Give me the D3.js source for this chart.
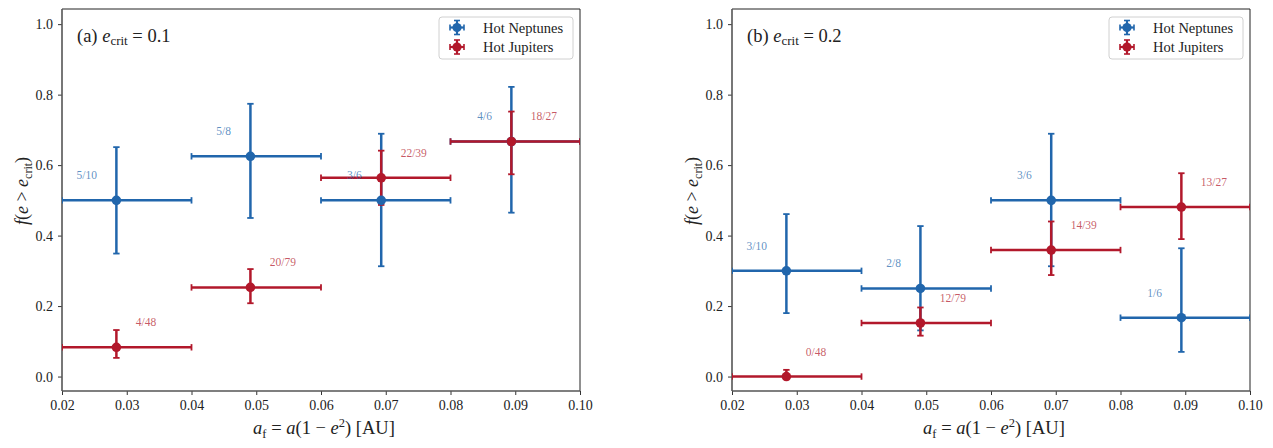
<!DOCTYPE html>
<html>
<head>
<meta charset="utf-8">
<script src="https://cdn.jsdelivr.net/npm/d3@7"></script>
<style>
  html, body { margin: 0; padding: 0; background: #fff; }
  svg { display: block; }
  svg text { font-family: "Liberation Serif", "Times New Roman", Times, "DejaVu Serif", "Noto Serif", serif !important; fill: #222; }
</style>
</head>
<body>
<svg id="chart" width="1273" height="448"></svg>
<script>
// ---------- data ----------
const binEdges = [[0.02, 0.04], [0.04, 0.06], [0.06, 0.08], [0.08, 0.10]];
const binCenters = [0.0284, 0.0491, 0.0693, 0.0894];

// Panel (a) e_crit = 0.1
const neptA = [0.5, 0.625, 0.5, 0.667];
const neptALo = [0.349, 0.45, 0.313, 0.465];
const neptAHi = [0.651, 0.774, 0.689, 0.822];
const neptALabels = ["5/10", "5/8", "3/6", "4/6"];
const jupA = [0.083, 0.253, 0.564, 0.667];
const jupALo = [0.053, 0.208, 0.487, 0.574];
const jupAHi = [0.132, 0.305, 0.641, 0.752];
const jupALabels = ["4/48", "20/79", "22/39", "18/27"];

// Panel (b) e_crit = 0.2
const neptB = [0.3, 0.25, 0.5, 0.167];
const neptBLo = [0.18, 0.131, 0.313, 0.07];
const neptBHi = [0.461, 0.427, 0.689, 0.364];
const neptBLabels = ["3/10", "2/8", "3/6", "1/6"];
const jupB = [0.0, 0.152, 0.359, 0.481];
const jupBLo = [0.0, 0.116, 0.288, 0.39];
const jupBHi = [0.019, 0.196, 0.44, 0.577];
const jupBLabels = ["0/48", "12/79", "14/39", "13/27"];

const xTicks = [0.02, 0.03, 0.04, 0.05, 0.06, 0.07, 0.08, 0.09, 0.10];
const yTicks = [0.0, 0.2, 0.4, 0.6, 0.8, 1.0];
const seriesNames = ["Hot Neptunes", "Hot Jupiters"];
const panelTags = ["(a)", "(b)"];
const panelEcrit = ["0.1", "0.2"];

// ---------- styling ----------
const COLORS = ["#2166ac", "#b2182b"];
const LW = 2.5, CAP = 3.2, MR = 4.8;

function buildSeries(y, lo, hi, labels) {
  return y.map((v, i) => ({ x: binCenters[i], x0: binEdges[i][0], x1: binEdges[i][1], y: v, lo: lo[i], hi: hi[i], label: labels[i] }));
}

const panels = [
  { left: 62, series: [buildSeries(neptA, neptALo, neptAHi, neptALabels), buildSeries(jupA, jupALo, jupAHi, jupALabels)] },
  { left: 732, series: [buildSeries(neptB, neptBLo, neptBHi, neptBLabels), buildSeries(jupB, jupBLo, jupBHi, jupBLabels)] }
];

const svg = d3.select("#chart");
const W = 518, TOP = 9, H = 382;

panels.forEach((p, pi) => {
  const g = svg.append("g").attr("transform", `translate(${p.left},${TOP})`);
  const x = d3.scaleLinear().domain([0.02, 0.10]).range([0, W]);
  const y = d3.scaleLinear().domain([-0.041, 1.043]).range([H, 0]);

  const clipId = "clip" + pi;
  g.append("clipPath").attr("id", clipId).append("rect").attr("width", W).attr("height", H);

  // axes
  const xAxis = d3.axisBottom(x).tickValues(xTicks).tickFormat(d3.format(".2f")).tickSizeOuter(0).tickSize(4).tickPadding(5);
  const yAxis = d3.axisLeft(y).tickValues(yTicks).tickFormat(d3.format(".1f")).tickSizeOuter(0).tickSize(4).tickPadding(5);
  const gx = g.append("g").attr("transform", `translate(0,${H})`).call(xAxis);
  const gy = g.append("g").call(yAxis);
  [gx, gy].forEach(a => {
    a.attr("font-family", null);
    a.select(".domain").remove();
    a.selectAll(".tick line").attr("stroke", "#333").attr("stroke-width", 1);
    a.selectAll(".tick text").attr("font-size", 14).attr("fill", "#222");
  });

  // frame
  g.append("line").attr("x1", 0).attr("x2", W).attr("y1", 0).attr("y2", 0).attr("stroke", "#222").attr("stroke-width", 1);
  g.append("line").attr("x1", W).attr("x2", W).attr("y1", 0).attr("y2", H).attr("stroke", "#222").attr("stroke-width", 1);
  g.append("line").attr("x1", 0).attr("x2", 0).attr("y1", 0).attr("y2", H).attr("stroke", "#555").attr("stroke-width", 1.6);
  g.append("line").attr("x1", 0).attr("x2", W).attr("y1", H).attr("y2", H).attr("stroke", "#555").attr("stroke-width", 1.6);

  const plot = g.append("g").attr("clip-path", `url(#${clipId})`);

  // error bars (both series) beneath markers
  p.series.forEach((s, si) => {
    const c = COLORS[si];
    const eb = plot.append("g").attr("stroke", c).attr("stroke-width", LW).attr("fill", "none");
    eb.selectAll("line.h").data(s).join("line").attr("class", "h")
      .attr("x1", d => x(d.x0)).attr("x2", d => x(d.x1)).attr("y1", d => y(d.y)).attr("y2", d => y(d.y));
    eb.selectAll("line.v").data(s).join("line").attr("class", "v")
      .attr("x1", d => x(d.x)).attr("x2", d => x(d.x)).attr("y1", d => y(d.lo)).attr("y2", d => y(d.hi));
    const caps = plot.append("g").attr("stroke", c).attr("stroke-width", 1.8);
    s.forEach(d => {
      [d.lo, d.hi].forEach(v => caps.append("line")
        .attr("x1", x(d.x) - CAP).attr("x2", x(d.x) + CAP).attr("y1", y(v)).attr("y2", y(v)));
      [d.x0, d.x1].forEach(v => caps.append("line")
        .attr("x1", x(v)).attr("x2", x(v)).attr("y1", y(d.y) - CAP).attr("y2", y(d.y) + CAP));
    });
  });
  p.series.forEach((s, si) => {
    plot.append("g").selectAll("circle").data(s).join("circle")
      .attr("cx", d => x(d.x)).attr("cy", d => y(d.y)).attr("r", MR).attr("fill", COLORS[si]);
  });

  // fraction labels
  p.series.forEach((s, si) => {
    g.append("g").selectAll("text").data(s).join("text")
      .attr("x", d => x(d.x + (si === 0 ? -0.003 : 0.003)))
      .attr("y", d => y(d.y + 0.071))
      .attr("text-anchor", si === 0 ? "end" : "start")
      .attr("dominant-baseline", "central")
      .attr("font-size", 11.5)
      .style("fill", COLORS[si]).attr("fill-opacity", 0.72)
      .text(d => d.label);
  });

  // panel title
  const t = g.append("text").attr("x", 15).attr("y", 33).attr("font-size", 18.5).attr("fill", "#222");
  t.append("tspan").text(panelTags[pi] + " ");
  t.append("tspan").attr("font-style", "italic").text("e");
  t.append("tspan").attr("font-size", 13).attr("dy", 3).text("crit");
  t.append("tspan").attr("dy", -3).text(" = " + panelEcrit[pi]);

  // x label
  const xl = g.append("text").attr("x", W / 2 + 3).attr("y", 425).attr("text-anchor", "middle").attr("font-size", 18.5);
  xl.append("tspan").attr("font-style", "italic").text("a");
  xl.append("tspan").attr("font-size", 12.5).attr("dy", 4).text("f");
  xl.append("tspan").attr("dy", -4).text(" = ");
  xl.append("tspan").attr("font-style", "italic").text("a");
  xl.append("tspan").text("(1 − ");
  xl.append("tspan").attr("font-style", "italic").text("e");
  xl.append("tspan").attr("font-size", 12.5).attr("dy", -7).text("2");
  xl.append("tspan").attr("dy", 7).text(") [AU]");

  // y label
  const yl = g.append("text").attr("transform", `translate(-34,${H / 2 - 9}) rotate(-90)`)
    .attr("text-anchor", "middle").attr("font-size", 18);
  yl.append("tspan").attr("font-style", "italic").text("f");
  yl.append("tspan").text("(");
  yl.append("tspan").attr("font-style", "italic").text("e");
  yl.append("tspan").text(" > ");
  yl.append("tspan").attr("font-style", "italic").text("e");
  yl.append("tspan").attr("font-size", 12).attr("dy", 4).text("crit");
  yl.append("tspan").attr("dy", -4).text(")");

  // legend
  const lg = g.append("g").attr("transform", `translate(${W - 141},8)`);
  lg.append("rect").attr("width", 134).attr("height", 42).attr("rx", 3)
    .attr("fill", "#fff").attr("fill-opacity", 0.85).attr("stroke", "#d0d0d0").attr("stroke-width", 1);
  seriesNames.forEach((n, i) => {
    const cy = 10.5 + i * 19.5, cx = 18, c = COLORS[i], s = 7;
    const item = lg.append("g").attr("stroke", c).attr("stroke-width", 2.2);
    item.append("line").attr("x1", cx - s).attr("x2", cx + s).attr("y1", cy).attr("y2", cy);
    item.append("line").attr("x1", cx).attr("x2", cx).attr("y1", cy - s).attr("y2", cy + s);
    item.append("line").attr("x1", cx - s).attr("x2", cx - s).attr("y1", cy - 3).attr("y2", cy + 3).attr("stroke-width", 1.6);
    item.append("line").attr("x1", cx + s).attr("x2", cx + s).attr("y1", cy - 3).attr("y2", cy + 3).attr("stroke-width", 1.6);
    item.append("line").attr("x1", cx - 3).attr("x2", cx + 3).attr("y1", cy - s).attr("y2", cy - s).attr("stroke-width", 1.6);
    item.append("line").attr("x1", cx - 3).attr("x2", cx + 3).attr("y1", cy + s).attr("y2", cy + s).attr("stroke-width", 1.6);
    lg.append("circle").attr("cx", cx).attr("cy", cy).attr("r", 4.6).attr("fill", c);
    lg.append("text").attr("x", 44).attr("y", cy).attr("dominant-baseline", "central")
      .attr("font-size", 14.5).attr("fill", "#222").text(n);
  });
});
</script>
</body>
</html>
